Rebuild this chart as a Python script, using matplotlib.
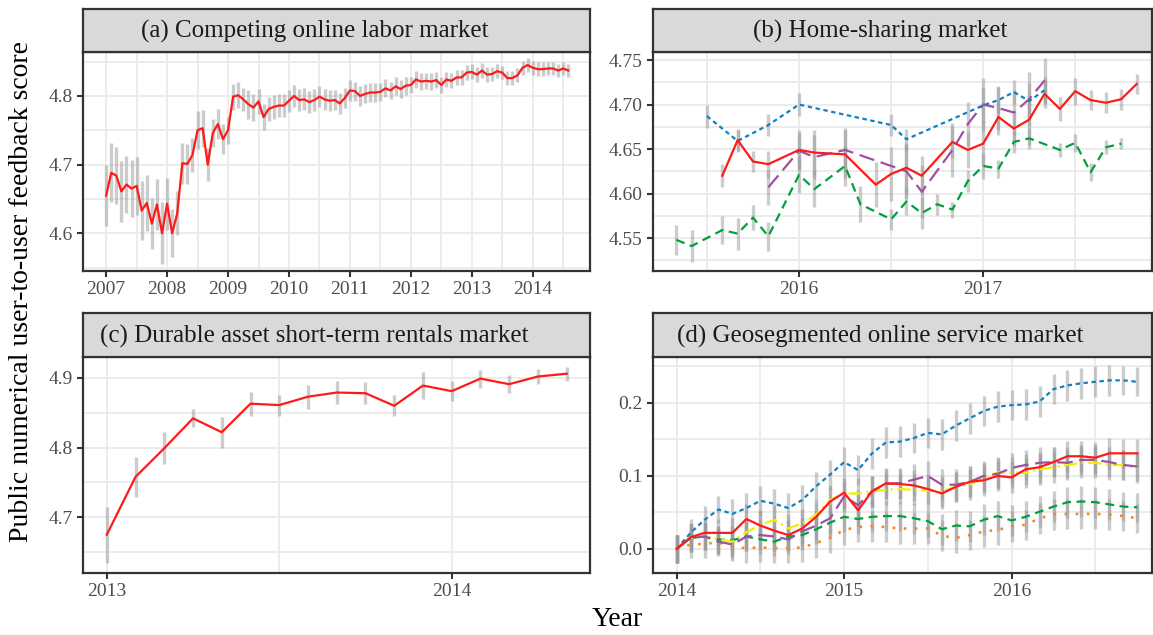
import numpy as np
import matplotlib
matplotlib.use("Agg")
import matplotlib.pyplot as plt

plt.rcParams['font.family'] = ['Liberation Serif', 'DejaVu Serif']

# (a) competing online labor market, monthly from Jan 2007
a_start = 2007.0
a_vals = [4.655, 4.688, 4.684, 4.661, 4.671, 4.665, 4.669, 4.633, 4.644, 4.614, 4.642, 4.600,
          4.643, 4.600, 4.629, 4.702, 4.701, 4.714, 4.750, 4.753, 4.700, 4.746, 4.759, 4.737,
          4.750, 4.799, 4.801, 4.795, 4.788, 4.783, 4.792, 4.769, 4.781, 4.784, 4.786, 4.786,
          4.793, 4.800, 4.794, 4.795, 4.791, 4.794, 4.799, 4.795, 4.793, 4.794, 4.789, 4.797,
          4.808, 4.807, 4.800, 4.803, 4.805, 4.805, 4.806, 4.811, 4.808, 4.814, 4.810, 4.815,
          4.816, 4.824, 4.821, 4.822, 4.821, 4.823, 4.816, 4.824, 4.822, 4.827, 4.827, 4.834,
          4.835, 4.831, 4.837, 4.831, 4.832, 4.836, 4.834, 4.826, 4.826, 4.830, 4.841, 4.845,
          4.841, 4.839, 4.839, 4.840, 4.840, 4.837, 4.840, 4.837]
a_err = [0.045, 0.043, 0.041, 0.044, 0.042, 0.041, 0.042, 0.043, 0.041, 0.037, 0.037, 0.045,
         0.038, 0.035, 0.032, 0.030, 0.029, 0.025, 0.028, 0.027, 0.024, 0.021, 0.022, 0.022,
         0.020, 0.019, 0.019, 0.017, 0.021, 0.020, 0.018, 0.019, 0.018, 0.017, 0.017, 0.017,
         0.016, 0.016, 0.016, 0.016, 0.016, 0.016, 0.015, 0.015, 0.015, 0.015, 0.015, 0.015,
         0.015, 0.014, 0.014, 0.014, 0.014, 0.014, 0.013, 0.013, 0.013, 0.013, 0.013, 0.013,
         0.012, 0.012, 0.012, 0.012, 0.012, 0.012, 0.011, 0.011, 0.011, 0.011, 0.011, 0.011,
         0.011, 0.011, 0.011, 0.011, 0.010, 0.010, 0.010, 0.010, 0.010, 0.010, 0.010, 0.010,
         0.010, 0.010, 0.010, 0.010, 0.010, 0.010, 0.010, 0.010]

# (b) home-sharing market, month offsets from Jan 2016
b_red_m = [-5, -4, -3, -2, 0, 1, 3, 5, 6, 7, 8, 10, 11, 12, 13, 14, 15, 16, 17, 18, 19, 20, 21, 22]
b_red = [4.620, 4.660, 4.636, 4.633, 4.649, 4.646, 4.644, 4.610, 4.622, 4.629, 4.620, 4.658,
         4.649, 4.656, 4.686, 4.673, 4.683, 4.712, 4.695, 4.715, 4.705, 4.702, 4.706, 4.723]
b_red_err = [0.013, 0.012, 0.012, 0.015, 0.022, 0.025, 0.027, 0.025, 0.03, 0.028, 0.022, 0.018,
             0.02, 0.025, 0.02, 0.02, 0.028, 0.016, 0.014, 0.015, 0.011, 0.012, 0.012, 0.011]
b_green_m = [-8, -7, -5, -4, -3, -2, 0, 1, 3, 4, 6, 7, 8, 9, 10, 11, 12, 13, 14, 15, 17, 18, 19, 20, 21]
b_green = [4.548, 4.541, 4.559, 4.555, 4.573, 4.552, 4.621, 4.605, 4.631, 4.588, 4.571, 4.591,
           4.578, 4.588, 4.582, 4.614, 4.631, 4.628, 4.658, 4.662, 4.649, 4.657, 4.624, 4.652, 4.656]
b_green_err = [0.017, 0.018, 0.016, 0.018, 0.014, 0.016, 0.02, 0.02, 0.022, 0.02, 0.012, 0.015,
               0.018, 0.012, 0.009, 0.012, 0.015, 0.01, 0.012, 0.012, 0.008, 0.01, 0.01, 0.008, 0.006]
b_blue_m = [-6, -4, -2, 0, 6, 7, 12, 13, 14, 15, 16]
b_blue = [4.687, 4.659, 4.677, 4.700, 4.677, 4.661, 4.699, 4.705, 4.714, 4.704, 4.716]
b_blue_err = [0.013, 0.012, 0.012, 0.013, 0.012, 0.012, 0.02, 0.015, 0.013, 0.02, 0.015]
b_purple_m = [-2, 0, 1, 3, 7, 8, 10, 11, 12, 13, 14, 15, 16]
b_purple = [4.607, 4.648, 4.641, 4.649, 4.625, 4.602, 4.649, 4.678, 4.700, 4.696, 4.691, 4.706, 4.727]
b_purple_err = [0.02, 0.02, 0.025, 0.025, 0.03, 0.03, 0.03, 0.025, 0.03, 0.025, 0.025, 0.03, 0.025]

# (c) durable asset short-term rentals market, monthly from Jan 2013
c_start = 2013.0
c_vals = [4.675, 4.758, 4.799, 4.842, 4.822, 4.863, 4.861, 4.873, 4.879, 4.878, 4.860,
          4.889, 4.881, 4.899, 4.891, 4.902, 4.906]
c_err = [0.040, 0.029, 0.023, 0.013, 0.022, 0.017, 0.015, 0.017, 0.017, 0.016, 0.015,
         0.019, 0.014, 0.013, 0.013, 0.011, 0.010]

# (d) geosegmented online service market, monthly from Jan 2014
d_start = 2014.0
d_red = [0.000, 0.016, 0.022, 0.022, 0.022, 0.041, 0.032, 0.025, 0.019, 0.028, 0.044, 0.065,
         0.077, 0.053, 0.079, 0.090, 0.089, 0.087, 0.082, 0.076, 0.085, 0.092, 0.094, 0.100,
         0.098, 0.109, 0.112, 0.119, 0.127, 0.127, 0.125, 0.131, 0.131, 0.131]
d_blue = [0.000, 0.022, 0.040, 0.054, 0.048, 0.056, 0.066, 0.062, 0.056, 0.067, 0.086, 0.102,
          0.119, 0.108, 0.131, 0.146, 0.147, 0.152, 0.159, 0.157, 0.169, 0.179, 0.189, 0.195,
          0.197, 0.198, 0.202, 0.219, 0.224, 0.227, 0.229, 0.231, 0.231, 0.229]
d_purple = [0.000, 0.015, 0.017, 0.010, 0.006, 0.017, 0.019, 0.017, 0.013, 0.024, 0.032, 0.042,
            0.072, 0.060, 0.079, 0.089, 0.090, 0.095, 0.100, 0.088, 0.088, 0.092, 0.100, 0.103,
            0.111, 0.115, 0.118, 0.119, 0.118, 0.122, 0.122, 0.119, 0.115, 0.113]
d_yellow = [0.000, 0.015, 0.017, 0.013, 0.010, 0.023, 0.033, 0.040, 0.028, 0.035, 0.047, 0.067,
            0.076, 0.076, 0.079, 0.081, 0.082, 0.081, 0.080, 0.079, 0.085, 0.088, 0.097, 0.105,
            0.105, 0.104, 0.109, 0.112, 0.115, 0.118, 0.118, 0.115, 0.115, 0.111]
d_green = [0.000, 0.015, 0.017, 0.013, 0.012, 0.017, 0.013, 0.010, 0.017, 0.019, 0.027, 0.036,
           0.044, 0.041, 0.044, 0.045, 0.045, 0.042, 0.038, 0.027, 0.032, 0.031, 0.040, 0.045,
           0.039, 0.044, 0.051, 0.058, 0.064, 0.065, 0.064, 0.061, 0.058, 0.057]
d_orange = [0.000, 0.006, 0.007, 0.009, 0.003, 0.001, 0.002, 0.001, 0.001, 0.002, 0.008, 0.015,
            0.026, 0.030, 0.031, 0.030, 0.028, 0.028, 0.028, 0.018, 0.015, 0.019, 0.024, 0.026,
            0.031, 0.033, 0.042, 0.047, 0.048, 0.048, 0.048, 0.047, 0.045, 0.042]
d_err = [0.019, 0.019, 0.019, 0.019, 0.020, 0.020, 0.020, 0.020, 0.020, 0.020, 0.020, 0.020,
         0.021, 0.021, 0.021, 0.021, 0.021, 0.021, 0.021, 0.021, 0.021, 0.021, 0.021, 0.021,
         0.021, 0.021, 0.021, 0.021, 0.021, 0.021, 0.021, 0.021, 0.020, 0.020]

titles = ["(a) Competing online labor market", "(b) Home-sharing market",
          "(c) Durable asset short-term rentals market", "(d) Geosegmented online service market"]

RED = "#FF1A1A"
BLUE = "#1380C0"
GREEN = "#00A03C"
PURPLE = "#A050A0"
YELLOW = "#F2EE00"
ORANGE = "#F08A24"
BAR = dict(color="#9A9A9A", alpha=0.5, lw=2.4, zorder=2)

fig = plt.figure(figsize=(11.53, 6.35), dpi=100)
W, H = 1153, 635


def panel(x0, x1, top, hdr_bot, bot, title):
    ax = fig.add_axes([x0 / W, 1 - bot / H, (x1 - x0) / W, (bot - hdr_bot) / H])
    hx = fig.add_axes([x0 / W, 1 - hdr_bot / H, (x1 - x0) / W, (hdr_bot - top) / H])
    hx.set_facecolor("#D9D9D9")
    hx.set_xticks([])
    hx.set_yticks([])
    for s in hx.spines.values():
        s.set_color("#333333")
        s.set_linewidth(1.6)
    # strip text sits a little left of centre in the original
    cx = ((x0 + x1) / 2 - 22 - x0) / (x1 - x0)
    hx.text(cx, 0.47, title, ha="center", va="center", fontsize=18, color="#1A1A1A",
            transform=hx.transAxes)
    for s in ax.spines.values():
        s.set_color("#333333")
        s.set_linewidth(1.6)
    ax.tick_params(direction="out", length=4, width=1.5, color="#333333",
                   labelcolor="#4D4D4D", labelsize=14)
    ax.tick_params(which="minor", length=0)
    ax.grid(True, which="both", color="#EBEBEB", lw=1.3, zorder=0)
    ax.set_axisbelow(True)
    return ax


def errbars(ax, x, y, e):
    y = np.array(y)
    e = np.array(e)
    ax.vlines(x, y - e, y + e, **BAR)


# (a)
ax = panel(83, 590, 9, 52, 271, titles[0])
xa = a_start + np.arange(len(a_vals)) / 12
errbars(ax, xa, a_vals, a_err)
ax.plot(xa, a_vals, color=RED, lw=1.6, zorder=3)
ax.set_xlim(2006.62, 2014.94)
ax.set_ylim(4.545, 4.864)
ax.set_xticks(range(2007, 2015))
ax.set_xticks(np.arange(2007.5, 2015, 1), minor=True)
ax.set_yticks([4.6, 4.7, 4.8])
ax.set_yticks([4.55, 4.65, 4.75, 4.85], minor=True)
ax.set_yticklabels(["4.6", "4.7", "4.8"])

# (b)
ax = panel(653, 1152, 9, 52, 271, titles[1])
b_series = [(b_green_m, b_green, b_green_err, GREEN, (0, (4, 2.5))),
            (b_purple_m, b_purple, b_purple_err, PURPLE, (0, (7, 3))),
            (b_blue_m, b_blue, b_blue_err, BLUE, (0, (2, 1.6))),
            (b_red_m, b_red, b_red_err, RED, "-")]
for m, v, e, col, ls in b_series:
    errbars(ax, 2016 + np.array(m) / 12, v, e)
for m, v, e, col, ls in b_series:
    ax.plot(2016 + np.array(m) / 12, v, color=col, ls=ls, lw=1.6, zorder=3)
ax.set_xlim(2015.207, 2017.917)
ax.set_ylim(4.513, 4.759)
ax.set_xticks([2016, 2017])
ax.set_xticks([2015.5, 2016.5, 2017.5], minor=True)
ax.set_yticks([4.55, 4.60, 4.65, 4.70, 4.75])
ax.set_yticks([4.525, 4.575, 4.625, 4.675, 4.725], minor=True)
ax.set_yticklabels(["4.55", "4.60", "4.65", "4.70", "4.75"])

# (c)
ax = panel(83, 590, 313, 357, 573, titles[2])
xc = c_start + np.arange(len(c_vals)) / 12
errbars(ax, xc, c_vals, c_err)
ax.plot(xc, c_vals, color=RED, lw=1.6, zorder=3)
ax.set_xlim(2012.931, 2014.401)
ax.set_ylim(4.620, 4.930)
ax.set_xticks([2013, 2014])
ax.set_xticks([2013.5], minor=True)
ax.set_yticks([4.7, 4.8, 4.9])
ax.set_yticks([4.65, 4.75, 4.85], minor=True)
ax.set_yticklabels(["4.7", "4.8", "4.9"])

# (d)
ax = panel(653, 1152, 313, 357, 573, titles[3])
xd = d_start + np.arange(len(d_red)) / 12
d_series = [(d_orange, ORANGE, (0, (1, 3.2)), 1.9),
            (d_green, GREEN, (0, (4, 2.5)), 1.6),
            (d_blue, BLUE, (0, (2, 1.6)), 1.6),
            (d_yellow, YELLOW, (0, (6, 2, 1, 2)), 1.6),
            (d_purple, PURPLE, (0, (7, 3)), 1.6),
            (d_red, RED, "-", 1.6)]
for v, col, ls, lw in d_series:
    errbars(ax, xd, v, d_err)
for v, col, ls, lw in d_series:
    ax.plot(xd, v, color=col, ls=ls, lw=lw, zorder=3)
ax.set_xlim(2013.859, 2016.838)
ax.set_ylim(-0.033, 0.263)
ax.set_xticks([2014, 2015, 2016])
ax.set_xticks([2014.5, 2015.5, 2016.5], minor=True)
ax.set_yticks([0.0, 0.1, 0.2])
ax.set_yticks([0.05, 0.15, 0.25], minor=True)
ax.set_yticklabels(["0.0", "0.1", "0.2"])

fig.text(22 / W, 1 - 291 / H, "Public numerical user-to-user feedback score", rotation=90,
         ha="center", va="center", fontsize=20)
fig.text(617 / W, 1 - 620 / H, "Year", ha="center", va="center", fontsize=20)

fig.savefig("out.png", dpi=100)
